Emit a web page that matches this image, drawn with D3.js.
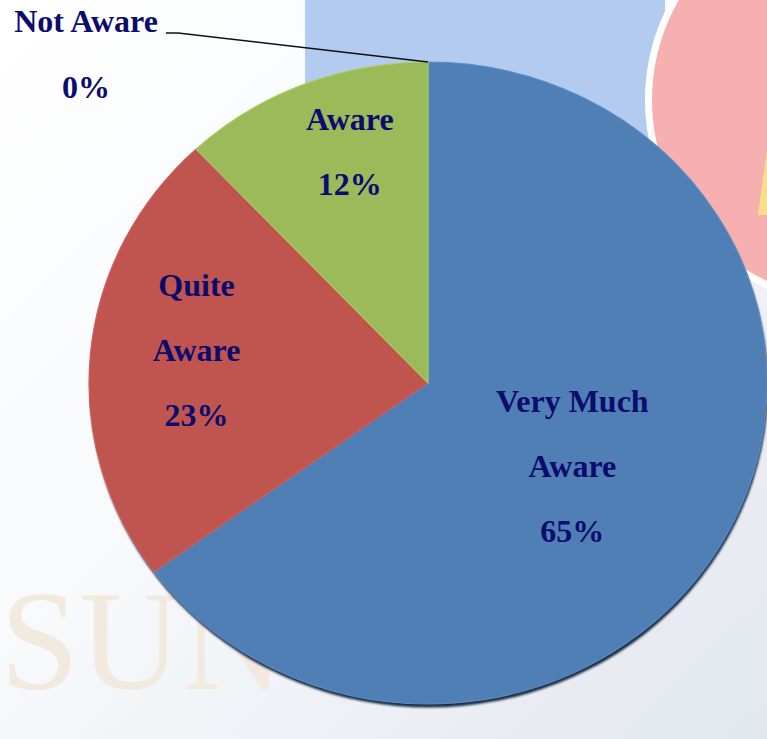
<!DOCTYPE html>
<html>
<head>
<meta charset="utf-8">
<script src="https://cdn.jsdelivr.net/npm/d3@7"></script>
<style>
  html, body { margin: 0; padding: 0; background: #fff; overflow: hidden; }
  svg { display: block; }
</style>
</head>
<body>
<svg id="chart" width="767" height="739"></svg>
<script>
// chart data
const categories = ["Very Much Aware", "Quite Aware", "Aware", "Not Aware"];
const values = [65, 23, 12, 0];
const labelLines = [["Very Much", "Aware", "65%"], ["Quite", "Aware", "23%"], ["Aware", "12%"], ["Not Aware", "0%"]];
const colors = ["#4f7fb5", "#c0544f", "#9bba5a", "#7f7f7f"];

const Width = 767, Height = 739;
const CX = 428, CY = 383;
const RY = 321, RX = 339;
const SX = RX / RY;
const LineGap = 65;
const TextColor = "#0c0c6e";
const FontFamily = "'Liberation Serif', 'DejaVu Serif', serif";
// label placement: fraction of radius and angle nudge (degrees) from slice middle
const labelRadius = { "Very Much Aware": 0.5, "Quite Aware": 0.69, "Aware": 0.754 };
const labelNudge = { "Very Much Aware": 4.6, "Quite Aware": 2.9, "Aware": 3.8 };

const svg = d3.select("#chart");
const defs = svg.append("defs");

const bg = defs.append("linearGradient").attr("id", "bg")
  .attr("x1", 0).attr("y1", 0).attr("x2", 1).attr("y2", 1);
bg.append("stop").attr("offset", "0%").attr("stop-color", "#ffffff");
bg.append("stop").attr("offset", "45%").attr("stop-color", "#f7f9fb");
bg.append("stop").attr("offset", "100%").attr("stop-color", "#e2e7ee");

const blur = defs.append("filter").attr("id", "soft");
blur.append("feGaussianBlur").attr("stdDeviation", 0.8);

// background decorations
svg.append("rect").attr("width", Width).attr("height", Height).attr("fill", "url(#bg)");
svg.append("rect").attr("x", 305).attr("y", 0).attr("width", 360).attr("height", 400).attr("fill", "#b3cbee");
svg.append("circle").attr("cx", 852).attr("cy", 100).attr("r", 207).attr("fill", "#ffffff");
svg.append("circle").attr("cx", 852).attr("cy", 100).attr("r", 200).attr("fill", "#f7b0b0");
svg.append("path").attr("d", "M767,150 L767,215 L758,215 Z").attr("fill", "#f8e08a");
svg.append("text").attr("x", 0).attr("y", 689)
  .attr("font-family", FontFamily).attr("font-size", 142)
  .attr("fill", "#f2e9df").text("SUN");

// pie
const pie = d3.pie().sort(null).value(d => d.value);
const arcs = pie(categories.map((c, i) => ({ name: c, value: values[i], lines: labelLines[i], color: colors[i] })));
const arc = d3.arc().innerRadius(0).outerRadius(RY);

const pieG = svg.append("g").attr("transform", `translate(${CX},${CY}) scale(${SX},1)`);

// 3d rim
pieG.append("ellipse").attr("cx", 1).attr("cy", 3.5).attr("rx", RY).attr("ry", RY)
  .attr("fill", "#1c2e45").attr("filter", "url(#soft)");

pieG.selectAll("path.slice")
  .data(arcs.filter(d => d.value > 0))
  .join("path")
  .attr("class", "slice")
  .attr("d", arc)
  .attr("fill", d => d.data.color)
  .attr("stroke", d => d3.color(d.data.color).brighter(0.3))
  .attr("stroke-width", 1);

// labels inside slices
const labelG = svg.append("g")
  .attr("font-family", FontFamily)
  .attr("font-weight", "bold")
  .attr("font-size", 32)
  .attr("fill", TextColor)
  .attr("text-anchor", "middle");

arcs.filter(d => d.value > 0).forEach(d => {
  const r = labelRadius[d.data.name] * RY;
  const a = (d.startAngle + d.endAngle) / 2 + labelNudge[d.data.name] * Math.PI / 180;
  const x = CX + Math.sin(a) * r * SX, y = CY - Math.cos(a) * r;
  const n = d.data.lines.length;
  d.data.lines.forEach((t, i) => {
    labelG.append("text")
      .attr("x", x)
      .attr("y", y + (i - (n - 1) / 2) * LineGap + 10)
      .text(t);
  });
});

// zero slice: outside label with leader line
const zero = arcs.find(d => d.value === 0);
const a0 = zero.startAngle;
const tip = [CX + Math.sin(a0) * RY * SX, CY - Math.cos(a0) * RY];
svg.append("polyline")
  .attr("points", [[166, 33], [178, 33], tip].map(p => p.join(",")).join(" "))
  .attr("fill", "none").attr("stroke", "#111").attr("stroke-width", 1.5);
zero.data.lines.forEach((t, i) => {
  labelG.append("text").attr("x", 86).attr("y", 32 + i * LineGap + (i ? 1 : 0)).text(t);
});
</script>
</body>
</html>
